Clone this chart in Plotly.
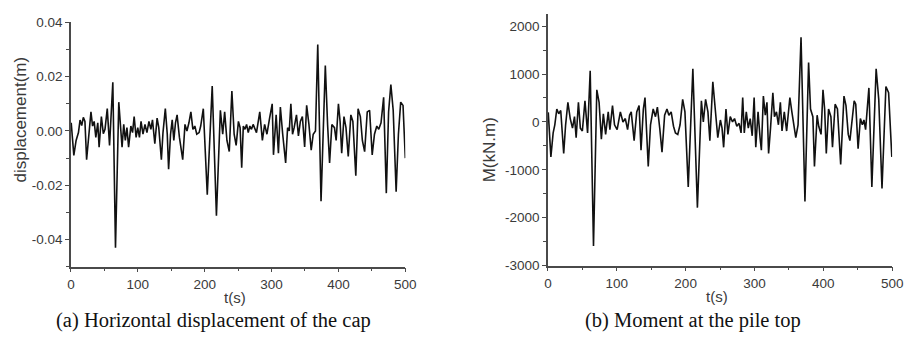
import plotly.graph_objects as go

# ---- data (time in s) ----
t_disp = [0.5, 4.4, 7.8, 11.3, 13.7, 16.2, 18.6, 21, 23.5, 26.5, 30, 32.4, 34.8, 37.3, 40.2, 42.2, 45.6, 48.5, 51, 54.4,
          57.8, 62.7, 66.7, 71.6, 76.5, 79, 81.4, 83.8, 86.3, 89.7, 92.2, 94.6, 97.5, 100, 102.5, 104.9, 107.8, 110.8, 113.7, 116.7,
          119.6, 122, 125.5, 128.9, 131.4, 135.3, 137.7, 141.2, 144.1, 146.1, 149, 151.5, 153.9, 156.4, 158.8, 162.3, 167.2, 170.6, 173.5, 176.5,
          179.4, 182.4, 185.3, 188.2, 191.7, 194.1, 198, 203.9, 211.3, 217.6, 223.5, 227, 229.9, 233.3, 236.8, 240.7, 244.1, 247.1, 250.5, 253,
          255.4, 257.8, 260.3, 262.7, 265.2, 267.6, 270, 272.5, 277.5, 282.4, 286.3, 289.7, 293.1, 297.1, 301, 302.9, 306.9, 310.3, 313.2, 316.7,
          319.1, 321.1, 324, 326.5, 328.9, 331.4, 333.8, 337.3, 340.2, 343.1, 346.1, 349.5, 352.5, 355.9, 359.3, 362.3, 365.7, 369.1, 374, 380.4,
          383.8, 386.8, 390.2, 394.1, 396.6, 400, 402.5, 404.9, 408.3, 411.3, 414.7, 418.6, 421.6, 426, 429.4, 432.8, 435.8, 439.2, 443.1, 446.6,
          450.5, 453.9, 457.4, 460.3, 463.7, 467.6, 471.6, 475, 478.4, 481.9, 486.3, 489.7, 493.1, 496.6, 500]
disp = [0.003, -0.009, -0.0035, -0.0006, 0.004, 0.002, 0.005, 0.0035, -0.0106, -0.001, 0.007, 0.0018, 0.0035, -0.0024, 0.003, -0.006, 0.0053, -0.001, 0.0006, 0.0082,
        -0.0053, 0.0179, -0.043, 0.0106, -0.006, 0.0024, -0.0035, 0.0012, -0.006, 0.0018, -0.0006, 0.0053, -0.0024, 0.0012, -0.0024, 0.0035, -0.0012, 0.0024, -0.0006, 0.0035,
        0.0006, 0.0041, -0.0047, 0.0047, 0.0012, -0.0106, -0.0006, 0.0082, -0.0012, -0.0141, -0.0012, 0.0041, -0.0035, 0.003, 0.0059, -0.0024, -0.0106, 0.0024, 0.0, 0.003,
        0.007, 0.0006, 0.0018, -0.0012, -0.0006, 0.0018, 0.0082, -0.0235, 0.0165, -0.0312, 0.0076, -0.0012, 0.007, -0.0035, -0.0076, 0.0147, -0.0012, -0.0053, 0.0035, 0.0012,
        -0.0135, 0.0018, 0.0006, 0.0024, -0.0006, 0.0018, 0.0006, 0.0024, -0.0006, 0.007, -0.0035, 0.0024, -0.0012, 0.0047, 0.010, -0.0088, 0.0059, -0.0082, 0.0088, -0.0012,
        -0.0071, -0.0118, 0.0012, 0.0, 0.010, -0.0012, 0.0012, 0.0059, -0.0018, 0.0035, 0.0053, -0.0059, 0.0094, 0.0024, -0.0071, -0.0012, 0.0, 0.0318, -0.0259, 0.0241,
        0.0024, -0.0118, 0.0024, 0.0012, -0.0035, 0.010, 0.0035, -0.0082, 0.0053, 0.0012, -0.0094, 0.0059, 0.0035, -0.0165, 0.0082, 0.0053, -0.0035, -0.0076, 0.007, 0.0076,
        -0.0088, -0.0012, 0.0018, 0.0006, 0.003, 0.0124, -0.0229, 0.007, 0.0171, 0.0076, -0.0224, -0.0012, 0.0106, 0.0094, -0.010]

t_mom = [0.5, 4.3, 7.6, 10, 12.9, 15.7, 18.6, 22.9, 25.7, 29, 32.4, 35.7, 38.6, 41, 44.3, 47.1, 50, 53.8, 57.6, 61.4,
         66.2, 71, 74.3, 77.6, 80.5, 83.8, 87.6, 90, 93.8, 96.7, 100.5, 105.2, 109, 112.4, 115.7, 118.6, 121, 125.2, 129, 132.4,
         135.2, 138.6, 141, 145.7, 149, 152.9, 156.2, 159, 162.4, 165.7, 169.5, 172.9, 175.7, 179, 182.4, 185.2, 188.6, 191.9, 195.7, 199,
         203.8, 210.5, 217.1, 222.9, 225.7, 229, 232.4, 235.2, 239.5, 243.3, 246.7, 250.5, 252.9, 255.2, 258.6, 261.4, 264.8, 268.1, 271, 274.3,
         277.6, 280.5, 282.9, 285.2, 288.1, 291, 293.8, 296.7, 299.5, 301.9, 305.2, 308.1, 310, 312.9, 315.7, 318.1, 320.5, 323.3, 326.7, 329,
         331.9, 334.8, 337.6, 340, 343.3, 346.7, 351.4, 354.3, 356.7, 360, 363.3, 367.6, 373.3, 378.6, 381.4, 384.8, 387.1, 391, 393.3, 396.7,
         399.5, 401.9, 404.3, 407.6, 411, 413.3, 417.1, 420.5, 425.2, 430, 432.9, 436.2, 438.6, 442.4, 444.8, 447.1, 450.5, 453.8, 456.7, 459,
         461.4, 466.2, 470.5, 476.7, 480.5, 485.2, 490.9, 494.8, 499.5]
moment = [200, -730, -230, -60, 270, 170, 240, -660, -60, 410, 70, -130, 110, -330, 410, -130, -190, 440, -230, 1070,
          -2590, 670, 410, -360, 170, -260, 210, -160, 340, -60, -160, 210, 0, 70, -160, 140, 210, -390, 210, 340,
          -590, 270, 510, -930, -60, 270, 110, 310, -130, -630, 140, 270, 140, 210, -90, -230, -260, -60, 470, 210,
          -1360, 1110, -1790, 440, 0, 470, 210, -390, 840, 210, -330, 40, -130, -530, 270, -260, 110, 0, 70, -90,
          -30, -230, 510, -230, 210, -130, 70, -290, 510, -530, 210, -330, -590, 540, 140, 410, -660, -130, 610, 110,
          210, -60, 410, -190, 210, -190, 510, 210, -30, -330, -60, 1770, -1660, 1240, 270, 110, -930, 140, -90, -260,
          670, 270, -660, 270, 110, -530, 370, 270, -890, 540, 340, -260, -390, 210, 440, 370, -560, 70, -60, 40,
          -160, 710, -1360, 1110, 470, -1390, 740, 610, -730]

x_ticks = [0, 100, 200, 300, 400, 500]
x_ticktext = ["0", "100", "200", "300", "400", "500"]
disp_ticks = [-0.04, -0.02, 0.00, 0.02, 0.04]
disp_ticktext = ["-0.04", "-0.02", "0.00", "0.02", "0.04"]
mom_ticks = [-3000, -2000, -1000, 0, 1000, 2000]
mom_ticktext = ["-3000", "-2000", "-1000", "0", "1000", "2000"]

W, H = 914, 341
TICKFONT = dict(family="Liberation Sans, Arial, sans-serif", size=13.5, color="#3a3a3a")
TITLEFONT = dict(family="Liberation Sans, Arial, sans-serif", size=15, color="#3a3a3a")
YTITLEFONT = dict(family="Liberation Sans, Arial, sans-serif", size=17, color="#3a3a3a")
CAPFONT = dict(family="Liberation Serif, Times New Roman, serif", size=20.5, color="#111111")
AXCOL = "#4a4a4a"


def px_x(p):
    return p / W


def px_y(p):
    return 1 - p / H


fig = go.Figure()
fig.add_trace(go.Scatter(x=t_disp, y=disp, mode="lines", xaxis="x", yaxis="y",
                         line=dict(color="#111111", width=1.6), showlegend=False))
fig.add_trace(go.Scatter(x=t_mom, y=moment, mode="lines", xaxis="x2", yaxis="y2",
                         line=dict(color="#111111", width=1.6), showlegend=False))

common_x = dict(range=[0, 500], tickmode="array", tickvals=x_ticks, ticktext=x_ticktext,
                showgrid=False, zeroline=False, showline=True, linecolor=AXCOL, linewidth=1.5,
                ticks="outside", ticklen=4, tickwidth=1.2, tickcolor=AXCOL, tickfont=TICKFONT,
                minor=dict(tickmode="linear", tick0=0, dtick=50, ticks="outside", ticklen=3,
                           tickwidth=1.2, tickcolor=AXCOL, showgrid=False))
common_y = dict(showgrid=False, zeroline=False, showline=True, linecolor=AXCOL, linewidth=1.5,
                ticks="outside", ticklen=4, tickwidth=1.2, tickcolor=AXCOL, tickfont=TICKFONT,
                tickmode="array")

fig.update_layout(
    width=W, height=H,
    margin=dict(l=0, r=0, t=0, b=0),
    paper_bgcolor="white", plot_bgcolor="white",
    xaxis=dict(domain=[px_x(68), px_x(408)], anchor="y", **common_x),
    yaxis=dict(domain=[px_y(271.7), px_y(16)], anchor="x", range=[-0.05, 0.04],
               tickvals=disp_ticks, ticktext=disp_ticktext,
               minor=dict(tickmode="linear", tick0=0, dtick=0.01, ticks="outside", ticklen=3,
                          tickwidth=1.2, tickcolor=AXCOL, showgrid=False),
               **common_y),
    xaxis2=dict(domain=[px_x(553), px_x(903)], anchor="y2", **common_x),
    yaxis2=dict(domain=[px_y(270.5), px_y(7.5)], anchor="x2", range=[-3000, 2250],
                tickvals=mom_ticks, ticktext=mom_ticktext,
                minor=dict(tickmode="linear", tick0=0, dtick=500, ticks="outside", ticklen=3,
                           tickwidth=1.2, tickcolor=AXCOL, showgrid=False),
                **common_y),
    annotations=[
        dict(text="t(s)", x=px_x(235), y=px_y(304), xref="paper", yref="paper",
             xanchor="center", yanchor="middle", showarrow=False, font=TITLEFONT),
        dict(text="t(s)", x=px_x(725), y=px_y(303), xref="paper", yref="paper",
             xanchor="center", yanchor="middle", showarrow=False, font=TITLEFONT),
        dict(text="displacement(m)", x=px_x(17), y=px_y(118), xref="paper", yref="paper",
             xanchor="center", yanchor="middle", showarrow=False, textangle=-90, font=YTITLEFONT),
        dict(text="M(kN.m)", x=px_x(494), y=px_y(149), xref="paper", yref="paper",
             xanchor="center", yanchor="middle", showarrow=False, textangle=-90, font=YTITLEFONT),
        dict(text="(a) Horizontal displacement of the cap", x=px_x(213), y=px_y(328),
             xref="paper", yref="paper", xanchor="center", yanchor="middle",
             showarrow=False, font=CAPFONT),
        dict(text="(b) Moment at the pile top", x=px_x(701), y=px_y(328),
             xref="paper", yref="paper", xanchor="center", yanchor="middle",
             showarrow=False, font=CAPFONT),
    ],
)

fig.write_html("out.html")
